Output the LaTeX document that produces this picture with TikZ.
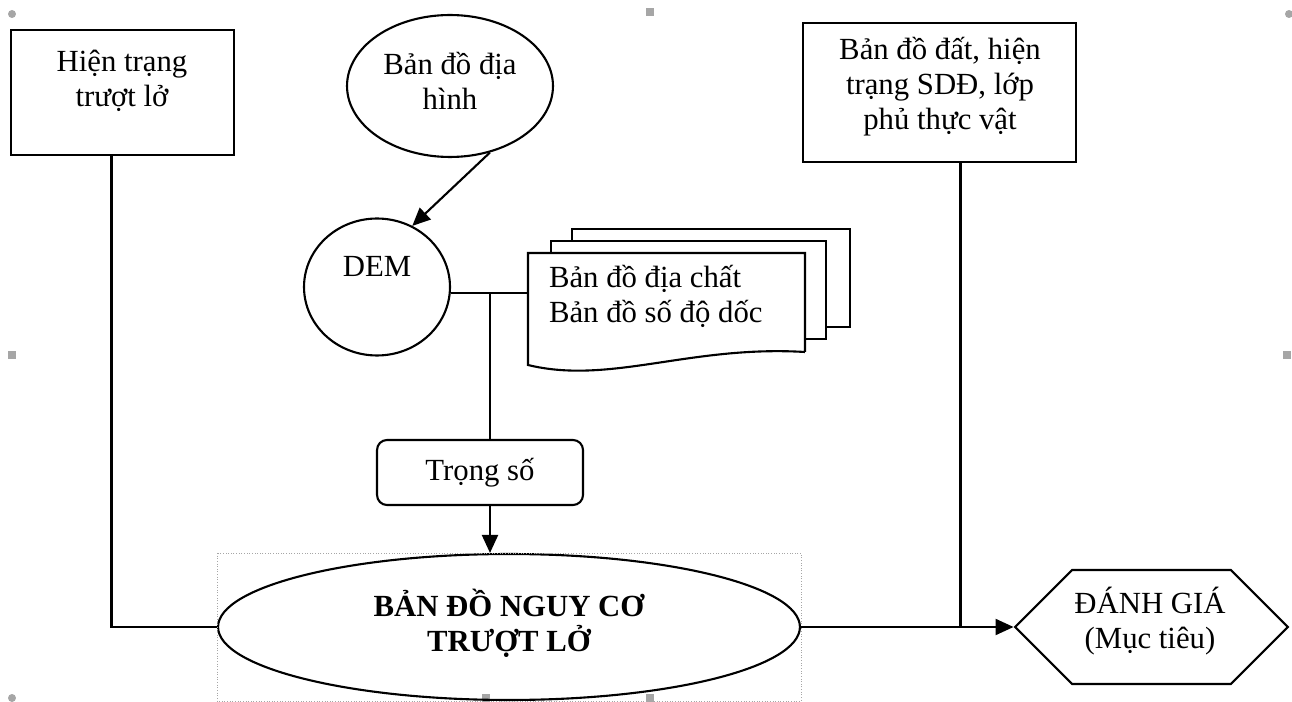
\documentclass[tikz,border=0pt]{standalone}
\usepackage{fontspec}
\setmainfont{Liberation Serif}
\usepackage{tikz}
\usetikzlibrary{calc,arrows.meta,positioning,shapes.geometric,shapes.symbols}

\begin{document}
\begin{tikzpicture}[x=0.02cm,y=-0.02cm,
    every node/.style={font=\fontsize{17.5}{20}\selectfont},
    line width=1.2pt,
    frame/.style={draw,rectangle,inner sep=0pt},
    oval/.style={draw,ellipse,inner sep=0pt},
    txt/.style={align=center,inner sep=0pt},
    arr/.style={-{Triangle[length=0.36cm,width=0.32cm]}},
    grip/.style={fill=gray!70,draw=none,inner sep=0pt,minimum size=0.16cm}]
  \useasboundingbox (0,0) rectangle (1292,702);
  % editor handles
  \foreach \i/\x/\y in {a/650/12,b/12/355,c/1287/355,d/650/698,e/486/698}
    \node[grip,rectangle] (sq\i) at (\x,\y) {};
  \foreach \i/\x/\y in {a/12/14,b/1289/14,c/12/698}
    \node[grip,circle] (ci\i) at (\x,\y) {};
  % inputs
  \node[frame,minimum width=4.46cm,minimum height=2.5cm] (hien) at (122.5,92.5) {};
  \node[txt] (hienT) at (122,81) {Hiện trạng\\trượt lở};
  \node[oval,minimum width=4.12cm,minimum height=2.84cm] (topo) at (450,86) {};
  \node[txt] (topoT) at (450,81) {Bản đồ địa\\hình};
  \node[frame,minimum width=5.46cm,minimum height=2.78cm] (soil) at (939.5,92.5) {};
  \node[txt] (soilT) at (940,87) {Bản đồ đất, hiện\\trạng SDĐ, lớp\\phủ thực vật};
  \node[oval,minimum width=2.92cm,minimum height=2.74cm] (dem) at (377,287) {};
  \node[txt] (demT) at (377,266) {DEM};
  % stacked documents
  \draw (572,241) -- (572,229) -- (850,229) -- (850,327) -- (826,327);
  \draw (551,253) -- (551,241) -- (826,241) -- (826,339) -- (805,339);
  \draw (805,352) -- (805,253) -- (528,253) -- (528,365)
        .. controls (610,385) and (690,345) .. (805,352);
  \node[txt,align=left,anchor=west] (docs) at (548,296) {Bản đồ địa chất\\Bản đồ số độ dốc};
  \coordinate (docW) at (528,293);
  \coordinate (j1) at (490,293);
  % weighting and result
  \node[draw,rounded corners=0.2cm,minimum width=4.12cm,minimum height=1.3cm] (trong) at (480,472.5) {Trọng số};
  \node[oval,minimum width=11.64cm,minimum height=2.92cm] (risk) at (509,627) {};
  \node[txt,font=\fontsize{17.5}{20}\selectfont\bfseries] (riskT) at (509,623) {BẢN ĐỒ NGUY CƠ\\TRƯỢT LỞ};
  \draw[gray!70,densely dotted,line width=0.5pt] (risk.west |- risk.north) rectangle (risk.east |- risk.south);
  \node[draw,signal,signal to=west and east,signal pointer angle=90,
        minimum width=5.46cm,minimum height=2.28cm,inner sep=0pt] (hex) at (1151.5,627) {};
  \node[txt] (hexT) at (1150,621) {ĐÁNH GIÁ\\(Mục tiêu)};
  % connectors
  \draw[arr] (topo.-59) -- (dem.60);
  \draw (dem.east |- j1) -- (docW);
  \draw (j1) -- (j1 |- trong.north);
  \draw[arr] (j1 |- trong.south) -- (j1 |- risk.north);
  \draw ([xshift=-0.22cm]hien.south) |- (risk.west);
  \draw[arr] (risk.east) -- (hex.west);
  \draw ([xshift=0.42cm]soil.south) -- ([xshift=0.42cm]soil.south |- risk.east);
\end{tikzpicture}
\end{document}
